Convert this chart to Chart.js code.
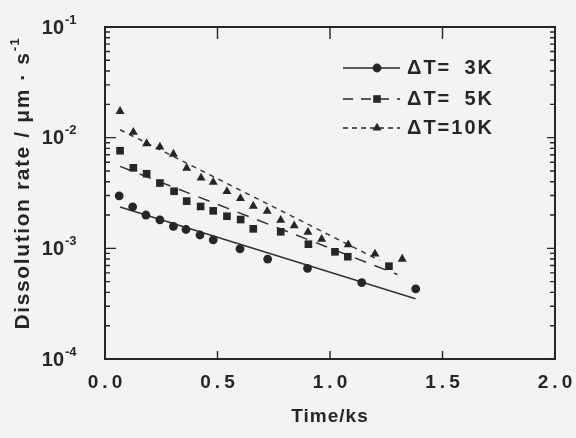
<!DOCTYPE html>
<html>
<head>
<meta charset="utf-8">
<script src="https://cdn.jsdelivr.net/npm/chart.js@4.4.1/dist/chart.umd.min.js"></script>
<style>
    body { margin: 0; background: #f4f2f2; }
    #wrap { width: 576px; height: 438px; }
</style>
</head>
<body>
<div id="wrap"><canvas id="rateChart" width="576" height="438"></canvas></div>
<script>
// measured points: time in ks, dissolution rate in um/s
const time3K = [0.063, 0.123, 0.182, 0.244, 0.304, 0.360, 0.422, 0.481, 0.600, 0.723, 0.900, 1.141, 1.381];
const rate3K = [2.98e-3, 2.37e-3, 2.00e-3, 1.81e-3, 1.58e-3, 1.48e-3, 1.32e-3, 1.19e-3, 0.99e-3, 0.80e-3, 0.66e-3, 0.49e-3, 0.43e-3];

const time5K = [0.067, 0.126, 0.185, 0.244, 0.307, 0.363, 0.425, 0.481, 0.542, 0.603, 0.659, 0.781, 0.904, 1.022, 1.079, 1.262];
const rate5K = [7.62e-3, 5.34e-3, 4.72e-3, 3.89e-3, 3.28e-3, 2.67e-3, 2.39e-3, 2.18e-3, 1.95e-3, 1.82e-3, 1.50e-3, 1.41e-3, 1.09e-3, 0.93e-3, 0.84e-3, 0.69e-3];

const time10K = [0.067, 0.126, 0.185, 0.244, 0.304, 0.363, 0.427, 0.481, 0.542, 0.602, 0.659, 0.721, 0.781, 0.841, 0.902, 0.963, 1.081, 1.200, 1.321];
const rate10K = [17.3e-3, 11.2e-3, 8.85e-3, 8.26e-3, 7.11e-3, 5.30e-3, 4.32e-3, 3.96e-3, 3.27e-3, 2.82e-3, 2.41e-3, 2.17e-3, 1.80e-3, 1.60e-3, 1.40e-3, 1.21e-3, 1.08e-3, 0.89e-3, 0.80e-3];

// fitted lines (end points)
const fitTime3K = [0.067, 1.38];
const fitRate3K = [2.36e-3, 0.35e-3];
const fitTime5K = [0.067, 1.30];
const fitRate5K = [5.5e-3, 0.58e-3];
const fitTime10K = [0.067, 1.22];
const fitRate10K = [11.8e-3, 0.78e-3];

const xTicks = [0, 0.5, 1.0, 1.5, 2.0];
const xTickLabels = ['0.0', '0.5', '1.0', '1.5', '2.0'];
const yTicks = [1e-4, 1e-3, 1e-2, 1e-1];
const yTickExp = ['-4', '-3', '-2', '-1'];
const legendValues = ['3K', '5K', '10K'];

var ink = '#262626';
var fontName = '"Liberation Sans", Arial, sans-serif';

function toPoints(xs, ys) {
    return xs.map((x, i) => ({ x: x, y: ys[i] }));
}

function drawMarker(ctx, style, x, y) {
    ctx.beginPath();
    if (style == 'circle') {
        ctx.arc(x, y, 4.4, 0, Math.PI * 2);
    } else if (style == 'rect') {
        ctx.rect(x - 3.8, y - 3.8, 7.6, 7.6);
    } else {
        ctx.moveTo(x, y - 5.2);
        ctx.lineTo(x + 4.5, y + 2.6);
        ctx.lineTo(x - 4.5, y + 2.6);
        ctx.closePath();
    }
    ctx.fill();
}

// frame, inward ticks, tick labels, titles and legend
var framePlugin = {
    id: 'frameAndText',
    afterDraw(chart) {
        var ctx = chart.ctx;
        var a = chart.chartArea;
        var xs = chart.scales.x;
        var ys = chart.scales.y;

        ctx.save();
        ctx.strokeStyle = ink;
        ctx.fillStyle = ink;
        ctx.lineWidth = 2;
        ctx.strokeRect(a.left, a.top, a.right - a.left, a.bottom - a.top);

        ctx.lineWidth = 1.4;
        ctx.beginPath();
        yTicks.forEach((d, i) => {
            var py = ys.getPixelForValue(d);
            ctx.moveTo(a.left, py); ctx.lineTo(a.left + 11, py);
            ctx.moveTo(a.right, py); ctx.lineTo(a.right - 8, py);
            if (i < yTicks.length - 1) {
                for (let k = 2; k <= 9; k++) {
                    var pm = ys.getPixelForValue(d * k);
                    ctx.moveTo(a.left, pm); ctx.lineTo(a.left + 5, pm);
                    ctx.moveTo(a.right, pm); ctx.lineTo(a.right - 5, pm);
                }
            }
        });
        xTicks.forEach((v) => {
            var px = xs.getPixelForValue(v);
            ctx.moveTo(px, a.bottom); ctx.lineTo(px, a.bottom - 8);
            ctx.moveTo(px, a.top); ctx.lineTo(px, a.top + 12);
        });
        ctx.stroke();

        // x tick labels
        ctx.textBaseline = 'middle';
        ctx.textAlign = 'center';
        ctx.font = 'bold 19px ' + fontName;
        ctx.letterSpacing = '4px';
        xTicks.forEach((v, i) => {
            ctx.fillText(xTickLabels[i], xs.getPixelForValue(v) + 2, 383);
        });

        // y tick labels 10^n
        ctx.letterSpacing = '0px';
        yTicks.forEach((d, i) => {
            var py = ys.getPixelForValue(d);
            ctx.textAlign = 'right';
            ctx.font = 'bold 20px ' + fontName;
            ctx.fillText('10', 64, py + 1);
            ctx.textAlign = 'left';
            ctx.font = 'bold 13px ' + fontName;
            ctx.fillText(yTickExp[i], 65, py - 7);
        });

        // x title
        ctx.textAlign = 'center';
        ctx.font = 'bold 19px ' + fontName;
        ctx.letterSpacing = '1px';
        ctx.fillText('Time/ks', (a.left + a.right) / 2, 417);

        // y title
        ctx.save();
        ctx.translate(23, 183);
        ctx.rotate(-Math.PI / 2);
        ctx.textAlign = 'left';
        ctx.font = 'bold 21px ' + fontName;
        ctx.letterSpacing = '1.6px';
        var main = 'Dissolution rate / \u03bcm \u00b7 s';
        var w1 = ctx.measureText(main).width;
        ctx.font = 'bold 13px ' + fontName;
        var w2 = ctx.measureText('-1').width;
        var x0 = -(w1 + w2) / 2;
        ctx.font = 'bold 21px ' + fontName;
        ctx.fillText(main, x0, 0);
        ctx.font = 'bold 13px ' + fontName;
        ctx.fillText('-1', x0 + w1, -8);
        ctx.restore();

        // legend
        var rows = [
            { style: 'circle', dash: [], y: 68 },
            { style: 'rect', dash: [10, 8], y: 99 },
            { style: 'triangle', dash: [5, 4], y: 128 }
        ];
        ctx.font = 'bold 20px ' + fontName;
        ctx.letterSpacing = '2px';
        var textRight = 407 + ctx.measureText('\u0394T=10K').width - 2;
        rows.forEach((r, i) => {
            ctx.lineWidth = 1.5;
            ctx.setLineDash(r.dash);
            ctx.beginPath();
            ctx.moveTo(343, r.y); ctx.lineTo(400, r.y);
            ctx.stroke();
            ctx.setLineDash([]);
            drawMarker(ctx, r.style, 377, r.y);

            ctx.textAlign = 'left';
            ctx.fillText('\u0394T=', 407, r.y);
            ctx.textAlign = 'right';
            ctx.fillText(legendValues[i], textRight + 2, r.y);
        });
        ctx.restore();
    }
};

var markerStyle = {
    showLine: false,
    backgroundColor: ink,
    borderColor: ink,
    borderWidth: 0
};
var fitStyle = {
    showLine: true,
    pointRadius: 0,
    borderColor: '#333333',
    borderWidth: 1.5,
    fill: false
};

var ctx = document.getElementById('rateChart').getContext('2d');

new Chart(ctx, {
    type: 'scatter',
    data: {
        datasets: [
            { ...markerStyle, label: 'dT=3K', data: toPoints(time3K, rate3K), pointStyle: 'circle', pointRadius: 4.4 },
            { ...markerStyle, label: 'dT=5K', data: toPoints(time5K, rate5K), pointStyle: 'rect', pointRadius: 5.4 },
            { ...markerStyle, label: 'dT=10K', data: toPoints(time10K, rate10K), pointStyle: 'triangle', pointRadius: 5.2 },
            { ...fitStyle, label: 'fit 3K', data: toPoints(fitTime3K, fitRate3K) },
            { ...fitStyle, label: 'fit 5K', data: toPoints(fitTime5K, fitRate5K), borderDash: [12, 9] },
            { ...fitStyle, label: 'fit 10K', data: toPoints(fitTime10K, fitRate10K), borderDash: [5, 5] }
        ]
    },
    options: {
        responsive: false,
        animation: false,
        layout: { padding: { top: 27, right: 21, left: 0, bottom: 0 } },
        plugins: {
            legend: { display: false },
            tooltip: { enabled: false }
        },
        scales: {
            x: {
                type: 'linear',
                min: 0,
                max: 2,
                ticks: { display: false },
                grid: { display: false },
                border: { display: false },
                afterFit: (s) => { s.height = 79; }
            },
            y: {
                type: 'logarithmic',
                min: 1e-4,
                max: 1e-1,
                ticks: { display: false },
                grid: { display: false },
                border: { display: false },
                afterFit: (s) => { s.width = 105; }
            }
        }
    },
    plugins: [framePlugin]
});
</script>
</body>
</html>
